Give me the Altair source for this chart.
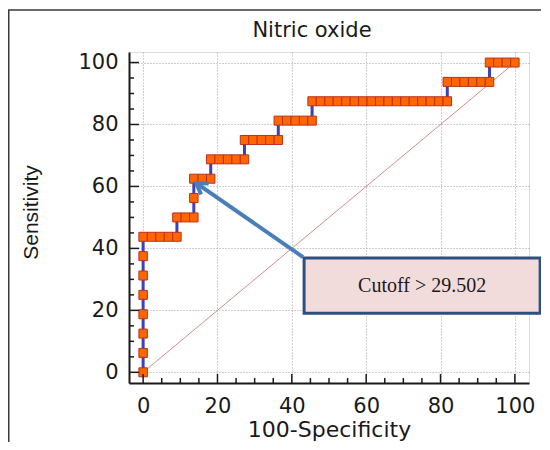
import altair as alt
import pandas as pd

# ROC points (100-Specificity, Sensitivity)
fpr = [0, 0, 0, 0, 0, 0, 0, 0,
       2.27, 4.55, 6.82, 9.09,
       9.09, 11.36, 13.64,
       13.64,
       13.64, 15.91, 18.18,
       18.18, 20.45, 22.73, 25.0, 27.27,
       27.27, 29.55, 31.82, 34.09, 36.36,
       36.36, 38.64, 40.91, 43.18, 45.45,
       45.45, 47.73, 50.0, 52.27, 54.55, 56.82, 59.09, 61.36, 63.64,
       65.91, 68.18, 70.45, 72.73, 75.0, 77.27, 79.55, 81.82,
       81.82, 84.09, 86.36, 88.64, 90.91, 93.18,
       93.18, 95.45, 97.73, 100.0]
tpr = [0, 6.25, 12.5, 18.75, 25, 31.25, 37.5, 43.75,
       43.75, 43.75, 43.75, 43.75,
       50, 50, 50,
       56.25,
       62.5, 62.5, 62.5,
       68.75, 68.75, 68.75, 68.75, 68.75,
       75, 75, 75, 75, 75,
       81.25, 81.25, 81.25, 81.25, 81.25,
       87.5, 87.5, 87.5, 87.5, 87.5, 87.5, 87.5, 87.5, 87.5,
       87.5, 87.5, 87.5, 87.5, 87.5, 87.5, 87.5, 87.5,
       93.75, 93.75, 93.75, 93.75, 93.75, 93.75,
       100, 100, 100, 100]

diag_x = [0, 100]
diag_y = [0, 100]

axis_values = [0, 20, 40, 60, 80, 100]
minor_values = [5, 10, 15, 25, 30, 35, 45, 50, 55, 65, 70, 75, 85, 90, 95]

chart_title = "Nitric oxide"

# annotation
arrow_x = [43.0, 14.3]
arrow_y = [37.2, 61.1]
box_x = [43.3, 106.8]
box_y = [19.1, 36.9]
cutoff_label = "Cutoff > 29.502"

W, H = 400, 331
xs = alt.Scale(domain=[-3.8, 103.8], nice=False, zero=False)
ys = alt.Scale(domain=[-3.45, 103.4], nice=False, zero=False)

FONT = "DejaVu Sans"
TXT = "#1a1a1a"

xaxis = alt.Axis(values=axis_values, title="100-Specificity", grid=True,
                 gridDash=[1, 2], gridColor="#a0a0a0", gridWidth=1,
                 ticks=False, tickSize=0, domainColor="#1a1a1a", domainWidth=2,
                 labelFont=FONT, labelFontSize=21, labelColor=TXT,
                 labelBaseline="alphabetic", labelPadding=29, labelFlush=False,
                 titleFont=FONT, titleFontSize=22, titleFontWeight="normal",
                 titleColor=TXT, titleX=200, titleY=53, titleBaseline="alphabetic",
                 titleAlign="center")
yaxis = alt.Axis(values=axis_values, title="Sensitivity", grid=True,
                 gridDash=[1, 2], gridColor="#a0a0a0", gridWidth=1,
                 ticks=False, tickSize=0, domainColor="#1a1a1a", domainWidth=2,
                 labelFont=FONT, labelFontSize=21, labelColor=TXT,
                 labelPadding=11, labelFlush=False,
                 titleFont="Liberation Sans", titleFontSize=21, titleFontWeight="normal",
                 titleColor=TXT, titleX=-92, titleY=160, titleBaseline="alphabetic",
                 titleAlign="center", titleAngle=270)

X = alt.X("x:Q", scale=xs, axis=xaxis)
Y = alt.Y("y:Q", scale=ys, axis=yaxis)

roc = pd.DataFrame({"x": fpr, "y": tpr, "i": list(range(len(fpr)))})
diag = pd.DataFrame({"x": diag_x, "y": diag_y})
arrow = pd.DataFrame({"x": arrow_x, "y": arrow_y})
tip = pd.DataFrame({"x": [arrow_x[1]], "y": [arrow_y[1]]})
box = pd.DataFrame({"x": [box_x[0]], "x2": [box_x[1]], "y": [box_y[0]], "y2": [box_y[1]]})
lab = pd.DataFrame({"x": [(box_x[0] + box_x[1]) / 2], "y": [(box_y[0] + box_y[1]) / 2], "t": [cutoff_label]})
ttl = pd.DataFrame({"t": [chart_title]})
ymaj = pd.DataFrame({"y": axis_values})
ymin = pd.DataFrame({"y": minor_values})
xmaj = pd.DataFrame({"x": axis_values})
xmin = pd.DataFrame({"x": minor_values})

diag_l = alt.Chart(diag).mark_line(color="#cc8f88", strokeWidth=1).encode(x=X, y=Y)
line_l = alt.Chart(roc).mark_line(color="#4040b8", strokeWidth=3).encode(x=X, y=Y, order="i:Q")
pts_l = alt.Chart(roc).mark_point(
    shape="M-0.94,-1H0.94V1H-0.94Z", size=81, filled=True,
    fill="#ff6600", stroke="#b8321e", strokeWidth=1, opacity=1
).encode(x=X, y=Y)
arrow_l = alt.Chart(arrow).mark_line(color="#4a7ebb", strokeWidth=4).encode(x=X, y=Y)
tip_l = alt.Chart(tip).mark_point(
    shape="M-0.6,0.95L0,0L0.6,0.95", size=484, filled=False, angle=305,
    stroke="#4a7ebb", strokeWidth=4, opacity=1
).encode(x=X, y=Y)
box_l = alt.Chart(box).mark_rect(fill="#f2dcdb", stroke="#2f4f80", strokeWidth=3).encode(
    x=X, x2="x2:Q", y=Y, y2="y2:Q")
lab_l = alt.Chart(lab).mark_text(font="Liberation Serif", fontSize=20, color=TXT,
                                 align="center", baseline="middle").encode(x=X, y=Y, text="t:N")
ttl_l = alt.Chart(ttl).mark_text(font=FONT, fontSize=21, color=TXT, align="center",
                                 baseline="alphabetic").encode(
    x=alt.value(183), y=alt.value(-15.3), text="t:N")
ytick_maj = alt.Chart(ymaj).mark_rule(color="#1a1a1a", strokeWidth=1.5).encode(
    y=Y, x=alt.value(0), x2=alt.value(10))
ytick_min = alt.Chart(ymin).mark_rule(color="#1a1a1a", strokeWidth=1.5).encode(
    y=Y, x=alt.value(0), x2=alt.value(5))
xtick_maj = alt.Chart(xmaj).mark_rule(color="#1a1a1a", strokeWidth=1.5).encode(
    x=X, y=alt.value(H), y2=alt.value(H - 9))
xtick_min = alt.Chart(xmin).mark_rule(color="#1a1a1a", strokeWidth=1.5).encode(
    x=X, y=alt.value(H), y2=alt.value(H - 5))
frame_l = alt.Chart(tip).mark_rect(fillOpacity=0, stroke="#3a3a3a", strokeWidth=1.6).encode(
    x=alt.value(-120.3), x2=alt.value(480), y=alt.value(-42), y2=alt.value(480))

chart = alt.layer(diag_l, line_l, pts_l, arrow_l, tip_l, box_l, lab_l, ttl_l,
                  ytick_maj, ytick_min, xtick_maj, xtick_min, frame_l).properties(
    width=W, height=H,
    padding={"left": 121, "top": 44, "right": 12, "bottom": 59},
    autosize="none",
).configure_view(stroke=None).configure(background="white")

chart.save("out.html", embed_options={"renderer": "svg", "actions": False})
